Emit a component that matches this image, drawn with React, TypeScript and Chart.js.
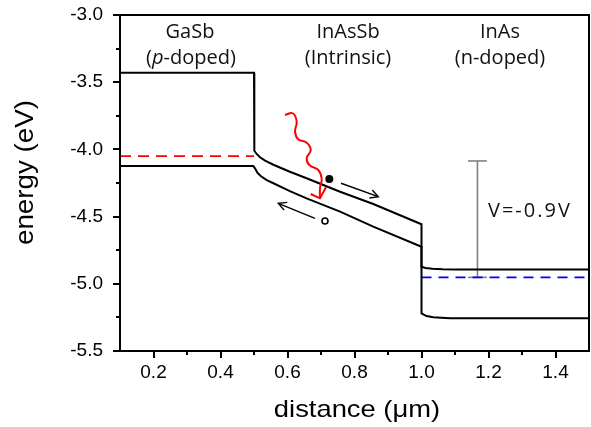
import React, { useEffect, useRef } from "react";
import { Chart, registerables } from "chart.js";

Chart.register(...registerables);

// ---- axis ranges and ticks ----
const xRange = [0.1, 1.5];
const yRange = [-5.5, -3.0];
const xTickValues = [0.2, 0.4, 0.6, 0.8, 1.0, 1.2, 1.4];
const xMinorTicks = [0.3, 0.5, 0.7, 0.9, 1.1, 1.3];
const yTickValues = [-5.5, -5.0, -4.5, -4.0, -3.5, -3.0];
const yMinorTicks = [-5.25, -4.75, -4.25, -3.75, -3.25];

// ---- conduction band edge ----
const cbX = [0.1, 0.5, 0.5, 0.502, 0.508, 0.518, 0.533, 0.558, 0.607, 0.657, 0.757, 0.856, 1.0, 1.0, 1.012, 1.033, 1.063, 1.1, 1.5];
const cbY = [-3.43, -3.43, -3.98, -4.01, -4.034, -4.059, -4.084, -4.114, -4.166, -4.215, -4.315, -4.406, -4.557, -4.873, -4.882, -4.888, -4.892, -4.893, -4.893];

// ---- valence band edge ----
const vbX = [0.1, 0.498, 0.503, 0.51, 0.52, 0.538, 0.558, 0.607, 0.657, 0.757, 0.856, 1.0, 1.0, 1.015, 1.035, 1.085, 1.5];
const vbY = [-4.124, -4.124, -4.141, -4.173, -4.198, -4.228, -4.252, -4.31, -4.364, -4.463, -4.575, -4.724, -5.22, -5.24, -5.249, -5.257, -5.257];

// ---- quasi Fermi levels ----
const fermiPX = [0.1, 0.5];
const fermiPY = [-4.05, -4.05];
const fermiNX = [1.0, 1.5];
const fermiNY = [-4.952, -4.952];

// ---- bias bar (V = -0.9 V) ----
const biasX = [1.167, 1.167];
const biasY = [-4.086, -4.952];
const biasCapTopX = [1.139, 1.195];
const biasCapTopY = [-4.086, -4.086];
const biasCapBotX = [1.139, 1.195];
const biasCapBotY = [-4.952, -4.952];

// ---- photon (wavy red arrow) ----
const photonX = [0.5925, 0.6155, 0.6275, 0.6224, 0.6322, 0.6573, 0.6693, 0.6573, 0.6651, 0.6919, 0.7021, 0.697, 0.697];
const photonY = [-3.744, -3.731, -3.794, -3.868, -3.925, -3.95, -4.004, -4.066, -4.116, -4.153, -4.215, -4.289, -4.364];
const photonHeadX = [0.6693, 0.697, 0.7149];
const photonHeadY = [-4.332, -4.364, -4.282];

// ---- carriers ----
const electronX = [0.7248];
const electronY = [-4.22];
const holeX = [0.7119];
const holeY = [-4.533];

// ---- drift arrows ----
const eArrowX = [0.7597, 0.871];
const eArrowY = [-4.252, -4.352];
const eHeadX = [0.8531, 0.871, 0.8445];
const eHeadY = [-4.302, -4.352, -4.362];
const hArrowX = [0.6821, 0.5725];
const hArrowY = [-4.513, -4.401];
const hHeadX = [0.5899, 0.5725, 0.5994];
const hHeadY = [-4.452, -4.401, -4.394];

const zip = (xs: number[], ys: number[]) => xs.map((x, i) => ({ x, y: ys[i] }));

const lineDs = (label: string, xs: number[], ys: number[], color: string, width: number, extra: any = {}) => ({
  label,
  data: zip(xs, ys),
  borderColor: color,
  borderWidth: width,
  pointRadius: 0,
  pointHoverRadius: 0,
  fill: false,
  tension: 0,
  ...extra,
});

const ARIAL = '"Liberation Sans", Arial, sans-serif';
const OPEN = '"Open Sans", sans-serif';

const overlayPlugin = {
  id: "overlay",
  afterDraw(chart: any) {
    const { ctx, chartArea: a, scales } = chart;
    const x = scales.x;
    const y = scales.y;
    ctx.save();
    // frame
    ctx.strokeStyle = "#000";
    ctx.lineWidth = 2;
    ctx.strokeRect(a.left, a.top, a.right - a.left, a.bottom - a.top);
    // ticks
    ctx.beginPath();
    for (const v of yTickValues) {
      const p = Math.round(y.getPixelForValue(v));
      ctx.moveTo(a.left - 7, p);
      ctx.lineTo(a.left, p);
    }
    for (const v of yMinorTicks) {
      const p = Math.round(y.getPixelForValue(v));
      ctx.moveTo(a.left - 4, p);
      ctx.lineTo(a.left, p);
    }
    for (const v of xTickValues) {
      const p = Math.round(x.getPixelForValue(v));
      ctx.moveTo(p, a.bottom);
      ctx.lineTo(p, a.bottom + 7);
    }
    for (const v of xMinorTicks) {
      const p = Math.round(x.getPixelForValue(v));
      ctx.moveTo(p, a.bottom);
      ctx.lineTo(p, a.bottom + 4);
    }
    ctx.stroke();

    // axis titles
    ctx.fillStyle = "#000";
    ctx.textBaseline = "alphabetic";
    ctx.textAlign = "center";
    ctx.font = `24px ${ARIAL}`;
    ctx.save();
    ctx.translate(357, 417);
    ctx.scale(1.14, 1);
    ctx.fillText("distance (μm)", 0, 0);
    ctx.restore();
    ctx.font = `25px ${ARIAL}`;
    ctx.save();
    ctx.translate(33, 172.5);
    ctx.rotate(-Math.PI / 2);
    ctx.scale(1.11, 1);
    ctx.fillText("energy (eV)", 0, 0);
    ctx.restore();

    // region labels
    ctx.font = `20px ${OPEN}`;
    ctx.fillStyle = "#111";
    ctx.fillText("GaSb", 190, 38);
    ctx.fillText("InAsSb", 348, 38);
    ctx.fillText("(Intrinsic)", 348, 64);
    ctx.fillText("InAs", 500, 38);
    ctx.fillText("(n-doped)", 500, 64);
    // (p-doped) with italic p
    const partA = "(";
    const partB = "p";
    const partC = "-doped)";
    ctx.textAlign = "left";
    ctx.font = `20px ${OPEN}`;
    const wA = ctx.measureText(partA).width;
    const wC = ctx.measureText(partC).width;
    ctx.font = `italic 20px ${OPEN}`;
    const wB = ctx.measureText(partB).width;
    let sx = 191 - (wA + wB + wC) / 2;
    ctx.font = `20px ${OPEN}`;
    ctx.fillText(partA, sx, 64);
    sx += wA;
    ctx.font = `italic 20px ${OPEN}`;
    ctx.fillText(partB, sx, 64);
    sx += wB;
    ctx.font = `20px ${OPEN}`;
    ctx.fillText(partC, sx, 64);

    // bias label
    ctx.font = `20px ${OPEN}`;
    (ctx as any).letterSpacing = "2px";
    ctx.fillText("V=-0.9V", 488, 217);
    (ctx as any).letterSpacing = "0px";
    ctx.restore();
  },
};

export default function App() {
  const ref = useRef<HTMLCanvasElement | null>(null);
  useEffect(() => {
    if (!ref.current) return;
    const chart = new Chart(ref.current, {
      type: "line",
      data: {
        datasets: [
          lineDs("photon", photonX, photonY, "#ff0000", 2, { tension: 0.45 }),
          lineDs("photonHead", photonHeadX, photonHeadY, "#ff0000", 2),
          lineDs("CB", cbX, cbY, "#000", 2),
          lineDs("VB", vbX, vbY, "#000", 2),
          lineDs("EFp", fermiPX, fermiPY, "#ff0000", 1.6, { borderDash: [11, 7] }),
          lineDs("EFn", fermiNX, fermiNY, "#0000ff", 1.6, { borderDash: [10, 7] }),
          lineDs("bias", biasX, biasY, "#808080", 1.6),
          lineDs("biasCapTop", biasCapTopX, biasCapTopY, "#808080", 1.6),
          lineDs("biasCapBot", biasCapBotX, biasCapBotY, "#808080", 1.6),
          lineDs("eArrow", eArrowX, eArrowY, "#000", 1.4),
          lineDs("eHead", eHeadX, eHeadY, "#000", 1.4),
          lineDs("hArrow", hArrowX, hArrowY, "#000", 1.4),
          lineDs("hHead", hHeadX, hHeadY, "#000", 1.4),
          {
            label: "electron",
            data: zip(electronX, electronY),
            showLine: false,
            pointRadius: 4,
            pointHoverRadius: 4,
            pointBackgroundColor: "#000",
            pointBorderColor: "#000",
            pointBorderWidth: 0,
          },
          {
            label: "hole",
            data: zip(holeX, holeY),
            showLine: false,
            pointRadius: 3,
            pointHoverRadius: 3,
            pointBackgroundColor: "#fff",
            pointBorderColor: "#000",
            pointBorderWidth: 1.6,
          },
        ],
      },
      options: {
        animation: false,
        responsive: false,
        devicePixelRatio: 1,
        layout: { autoPadding: false, padding: { top: 15, right: 2, left: 0, bottom: 0 } },
        plugins: { legend: { display: false }, tooltip: { enabled: false }, title: { display: false } },
        scales: {
          x: {
            type: "linear",
            min: xRange[0],
            max: xRange[1],
            grid: { display: false, drawTicks: false },
            border: { display: false },
            afterBuildTicks: (s: any) => {
              s.ticks = xTickValues.map((value) => ({ value }));
            },
            afterFit: (s: any) => {
              s.height = 76;
              s.paddingLeft = 0;
              s.paddingRight = 0;
            },
            ticks: {
              autoSkip: false,
              maxRotation: 0,
              minRotation: 0,
              padding: 10,
              color: "#000",
              font: { family: ARIAL, size: 19 },
              callback: (v: any) => Number(v).toFixed(1),
            },
          },
          y: {
            type: "linear",
            min: yRange[0],
            max: yRange[1],
            grid: { display: false, drawTicks: false },
            border: { display: false },
            afterBuildTicks: (s: any) => {
              s.ticks = yTickValues.map((value) => ({ value }));
            },
            afterFit: (s: any) => {
              s.width = 120;
              s.paddingTop = 0;
              s.paddingBottom = 0;
            },
            ticks: {
              autoSkip: false,
              padding: 17,
              color: "#000",
              font: { family: ARIAL, size: 19 },
              callback: (v: any) => Number(v).toFixed(1),
            },
          },
        },
      },
      plugins: [overlayPlugin],
    });
    return () => chart.destroy();
  }, []);
  return (
    <div style={{ position: "fixed", left: 0, top: 0, width: 591, height: 427, background: "#fff" }}>
      <canvas ref={ref} width={591} height={427} style={{ display: "block" }} />
    </div>
  );
}
